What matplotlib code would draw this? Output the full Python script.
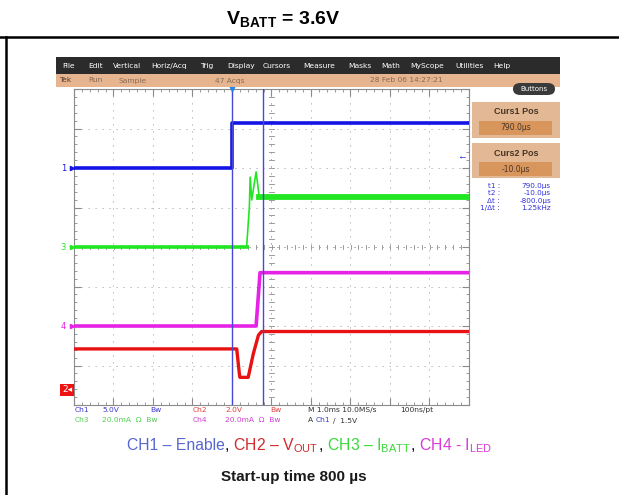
import matplotlib
matplotlib.use("Agg")
import matplotlib.pyplot as plt
import numpy as np
from matplotlib.patches import Rectangle, FancyBboxPatch
from matplotlib.lines import Line2D

plt.rcParams['font.family'] = ['Liberation Sans', 'DejaVu Sans']
plt.rcParams['mathtext.fontset'] = 'custom'
plt.rcParams['mathtext.rm'] = 'Liberation Sans'
plt.rcParams['mathtext.bf'] = 'Liberation Sans:bold'
plt.rcParams['mathtext.it'] = 'Liberation Sans:italic'

# scope traces: time in ms (1 ms/div), level in divisions from screen centre
ch1_t = [-4.0, 0.0, 0.0, 6.0]
ch1_v = [2.0, 2.0, 3.14, 3.14]
ch2_t = [-4.0, 0.12, 0.185, 0.20, 0.41, 0.54, 0.67, 0.75, 6.0]
ch2_v = [-2.58, -2.58, -3.2, -3.3, -3.3, -2.7, -2.23, -2.14, -2.14]
ch3_t = [-4.0, 0.37, 0.44, 0.46, 0.50, 0.61, 0.69, 0.76, 6.0]
ch3_v = [0.0, 0.0, 1.02, 1.77, 1.19, 1.9, 1.27, 1.27, 1.27]
ch4_t = [-4.0, 0.61, 0.71, 6.0]
ch4_v = [-2.0, -2.0, -0.65, -0.65]
ch_ground = {'1': 2.0, '3': 0.0, '4': -2.0}
cursor_t = [-0.01, 0.79]
trig_level = 2.3

menu_items = ['File', 'Edit', 'Vertical', 'Horiz/Acq', 'Trig', 'Display', 'Cursors',
              'Measure', 'Masks', 'Math', 'MyScope', 'Utilities', 'Help']
menu_x = [62, 88, 113, 151, 200, 227, 263, 303, 348, 381, 410, 455, 493]
readout_labels = ['t1 :', 't2 :', '\u0394t :', '1/\u0394t :']
readout_values = ['790.0\u00b5s', '-10.0\u00b5s', '-800.0\u00b5s', '1.25kHz']

BLUE = '#1414e6'
RED = '#e81212'
GREEN = '#22e622'
MAG = '#e622e6'

W, H = 619, 495
fig = plt.figure(figsize=(W / 100, H / 100), dpi=100)
fig.patch.set_facecolor('white')


def fx(x):
    return x / W


def fy(y):
    return 1 - y / H


def box(x0, y0, x1, y1, color, **kw):
    r = Rectangle((fx(x0), fy(y1)), (x1 - x0) / W, (y1 - y0) / H,
                  transform=fig.transFigure, facecolor=color, edgecolor='none', **kw)
    fig.add_artist(r)


def ftext(x, y, s, **kw):
    kw.setdefault('va', 'center')
    return fig.text(fx(x), fy(y), s, **kw)


# page frame and title
fig.add_artist(Line2D([0, 1], [fy(37), fy(37)], color='black', lw=1.8, transform=fig.transFigure))
fig.add_artist(Line2D([fx(6), fx(6)], [fy(37), 0], color='black', lw=1.8, transform=fig.transFigure))
ftext(283, 19, r'$\mathbf{V_{BATT}}$ = 3.6V', ha='center', fontsize=14, weight='bold')

# scope menu bars
box(56, 57, 560, 74, '#2b2b2b')
for s, x in zip(menu_items, menu_x):
    ftext(x, 66, s, fontsize=5.4, color='white', family='DejaVu Sans')
box(56, 74, 560, 87, '#e6b48e')
for s, x, c in [('Tek', 59, '#5a3a28'), ('Run', 88, '#8a6a55'), ('Sample', 118, '#8a6a55'),
                ('47 Acqs', 215, '#8a6a55'), ('28 Feb 06 14:27:21', 370, '#8a6a55')]:
    ftext(x, 80.5, s, fontsize=5.4, color=c, family='DejaVu Sans')
pill = FancyBboxPatch((fx(513), fy(95)), 42 / W, 12 / H, boxstyle='round,pad=0,rounding_size=0.012',
                      transform=fig.transFigure, facecolor='#3a3a3a', edgecolor='none')
fig.add_artist(pill)
ftext(534, 89, 'Buttons', fontsize=5, color='white', ha='center', family='DejaVu Sans')

# cursor panel
for y0, y1, label, val in [(102, 138, 'Curs1 Pos', '790.0\u00b5s'), (143, 178, 'Curs2 Pos', '-10.0\u00b5s')]:
    box(472, y0, 560, y1, '#e2b994')
    ftext(516, y0 + 10, label, fontsize=6.5, weight='bold', color='#4a3426', ha='center')
    box(479, y0 + 19, 552, y0 + 33, '#d8955c')
    ftext(516, y0 + 26, val, fontsize=5.5, color='#4a3426', ha='center', family='DejaVu Sans')
for i, (lab, val) in enumerate(zip(readout_labels, readout_values)):
    ftext(500, 186 + 7.3 * i, lab, fontsize=5.2, color='#3030e0', ha='right', family='DejaVu Sans')
    ftext(551, 186 + 7.3 * i, val, fontsize=5.2, color='#3030e0', ha='right', family='DejaVu Sans')

# graticule
ax = fig.add_axes([fx(74), fy(405), 395 / W, 316 / H])
ax.set_xlim(-4, 6)
ax.set_ylim(-4, 4)
ax.set_xticks(np.arange(-4, 7, 1))
ax.set_yticks(np.arange(-4, 5, 1))
ax.set_xticks(np.arange(-4, 6.01, 0.2), minor=True)
ax.set_yticks(np.arange(-4, 4.01, 0.2), minor=True)
ax.tick_params(which='both', direction='in', top=True, right=True, labelleft=False,
               labelbottom=False, color='#8a8a8a')
ax.tick_params(which='major', length=5, width=0.8)
ax.tick_params(which='minor', length=2.5, width=0.6)
ax.grid(True, which='major', color='#a8a8a8', linestyle=(0, (1.2, 6)), lw=0.7)
for sp in ax.spines.values():
    sp.set_color('#8a8a8a')
    sp.set_linewidth(0.8)
# centre cross with tick marks
ax.axvline(1, color='#a8a8a8', lw=0.7, ls=(0, (1.2, 6)), zorder=1)
ax.axhline(0, color='#a8a8a8', lw=0.7, ls=(0, (1.2, 6)), zorder=1)
for v in np.arange(-4, 4.01, 0.2):
    ax.plot([0.94, 1.06], [v, v], color='#8a8a8a', lw=0.6, zorder=1)
for t in np.arange(-4, 6.01, 0.2):
    ax.plot([t, t], [-0.06, 0.06], color='#8a8a8a', lw=0.6, zorder=1)

# traces
ax.plot(ch1_t, ch1_v, color=BLUE, lw=2.6, zorder=3)
ax.plot(ch4_t, ch4_v, color=MAG, lw=2.6, zorder=3)
ax.plot(ch2_t, ch2_v, color=RED, lw=2.4, zorder=3)
ax.plot(ch3_t, ch3_v, color=GREEN, lw=1.2, zorder=3)
ax.plot(ch3_t[:2], ch3_v[:2], color=GREEN, lw=2.6, zorder=3)
ax.plot(ch3_t[6:], ch3_v[6:], color=GREEN, lw=4.2, zorder=3)

# cursors
for t in cursor_t:
    ax.axvline(t, color='#4848d8', lw=1.0, zorder=4)

# channel markers
for name, col in [('1', BLUE), ('3', GREEN), ('4', MAG)]:
    g = ch_ground[name]
    ax.plot([-4.06], [g], marker='>', ms=3, color=col, clip_on=False, zorder=5)
    ax.text(-4.2, g, name, color=col, fontsize=6, ha='right', va='center', family='DejaVu Sans')
ax.text(-4.05, -3.62, '2\u25c2', color='white', fontsize=6.5, ha='right', va='center', family='DejaVu Sans',
        bbox=dict(boxstyle='square,pad=0.2', facecolor='#ee1111', edgecolor='none'))
ax.plot([0], [4.02], marker='v', ms=5, color='#1e88e8', clip_on=False, zorder=5)
ax.text(5.82, trig_level, '\u2190', color=BLUE, fontsize=7, ha='center', va='center')

# status lines
status = [
    (75, 410, 'Ch1', '#3a3ad0'), (102, 410, '5.0V', '#3a3ad0'), (150, 410, 'Bw', '#3a3ad0'),
    (193, 410, 'Ch2', '#e04040'), (225, 410, '2.0V', '#e04040'), (270, 410, 'Bw', '#e04040'),
    (308, 410, 'M 1.0ms 10.0MS/s', '#303030'), (400, 410, '100ns/pt', '#303030'),
    (75, 420, 'Ch3', '#50d050'), (102, 420, '20.0mA  \u03a9  Bw', '#50d050'),
    (193, 420, 'Ch4', '#d040d0'), (225, 420, '20.0mA  \u03a9  Bw', '#d040d0'),
    (308, 420, 'A', '#303030'), (316, 420, 'Ch1', '#3a3ad0'), (333, 420, '\u2215  1.5V', '#303030'),
]
for x, y, s, c in status:
    ftext(x, y, s, fontsize=5.4, color=c, family='DejaVu Sans')

# multicoloured caption
parts = [('CH1 \u2013 Enable', '#5866d0'), (',', 'black'), (' CH2 \u2013 V$_{\\mathrm{OUT}}$', '#d02a2a'),
         (',', 'black'), (' CH3 \u2013 I$_{\\mathrm{BATT}}$', '#3ad83a'), (',', 'black'),
         (' CH4 - I$_{\\mathrm{LED}}$', '#d83ad8')]
renderer = fig.canvas.get_renderer()
x = fx(127)
for s, c in parts:
    t = fig.text(x, fy(446), s, color=c, fontsize=11.3, va='center')
    x += t.get_window_extent(renderer).width / W

ftext(294, 477, 'Start-up time 800 \u00b5s', ha='center', fontsize=11, weight='bold', color='#1a1a1a')

fig.savefig('out.png', dpi=100)
